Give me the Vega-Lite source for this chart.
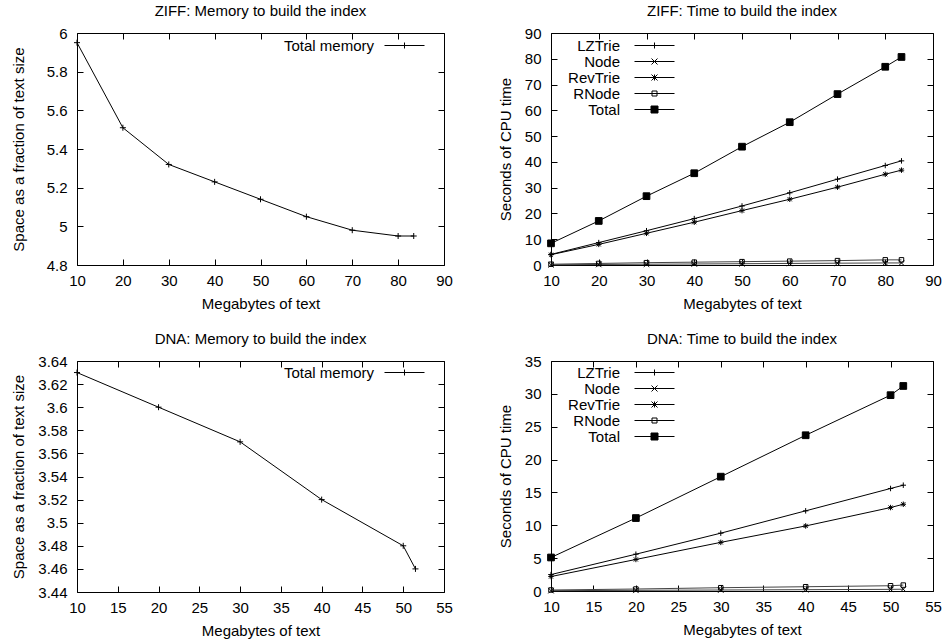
{
  "$schema": "https://vega.github.io/schema/vega-lite/v6.json",
  "padding": {"left": 10, "top": 3, "right": 0, "bottom": 0},
  "background": "white",
  "config": {
    "font": "Liberation Sans",
    "view": {"stroke": "black", "strokeWidth": 1},
    "axis": {
      "grid": false, "domain": false, "tickColor": "black", "tickSize": -6, "tickWidth": 1,
      "labelFontSize": 15, "titleFontSize": 15, "titleFontWeight": "normal",
      "labelColor": "black", "titleColor": "black", "labelPadding": 16, "labelFlush": false, "labelOverlap": false
    },
    "axisBottom": {"labelPadding": 14, "titlePadding": 8},
    "title": {"fontSize": 15, "fontWeight": "normal", "color": "black", "offset": 7},
    "legend": {
      "orient": "none", "padding": 0, "symbolSize": 100, "labelAlign": "right", "labelOffset": -36, "symbolOpacity": 1,
      "labelFontSize": 15, "labelColor": "black", "rowPadding": -2, "symbolStrokeColor": "black", "symbolStrokeWidth": 1
    }
  },
  "datasets": {
    "ziffMem": [
      {"x": 10, "y": 5.95, "s": "Total memory"},
      {"x": 20, "y": 5.51, "s": "Total memory"},
      {"x": 30, "y": 5.32, "s": "Total memory"},
      {"x": 40, "y": 5.23, "s": "Total memory"},
      {"x": 50, "y": 5.14, "s": "Total memory"},
      {"x": 60, "y": 5.05, "s": "Total memory"},
      {"x": 70, "y": 4.98, "s": "Total memory"},
      {"x": 80, "y": 4.95, "s": "Total memory"},
      {"x": 83.4, "y": 4.95, "s": "Total memory"}
    ],
    "dnaMem": [
      {"x": 10, "y": 3.63, "s": "Total memory"},
      {"x": 20, "y": 3.60, "s": "Total memory"},
      {"x": 30, "y": 3.57, "s": "Total memory"},
      {"x": 40, "y": 3.52, "s": "Total memory"},
      {"x": 50, "y": 3.48, "s": "Total memory"},
      {"x": 51.5, "y": 3.46, "s": "Total memory"}
    ],
    "ziffTime": [
      {"x": 10, "y": 4.1, "s": "LZTrie"}, {"x": 20, "y": 8.7, "s": "LZTrie"}, {"x": 30, "y": 13.3, "s": "LZTrie"},
      {"x": 40, "y": 18.0, "s": "LZTrie"}, {"x": 50, "y": 22.9, "s": "LZTrie"}, {"x": 60, "y": 28.0, "s": "LZTrie"},
      {"x": 70, "y": 33.3, "s": "LZTrie"}, {"x": 80, "y": 38.6, "s": "LZTrie"}, {"x": 83.4, "y": 40.4, "s": "LZTrie"},
      {"x": 10, "y": 0.1, "s": "Node"}, {"x": 20, "y": 0.2, "s": "Node"}, {"x": 30, "y": 0.3, "s": "Node"},
      {"x": 40, "y": 0.4, "s": "Node"}, {"x": 50, "y": 0.5, "s": "Node"}, {"x": 60, "y": 0.6, "s": "Node"},
      {"x": 70, "y": 0.7, "s": "Node"}, {"x": 80, "y": 0.8, "s": "Node"}, {"x": 83.4, "y": 0.8, "s": "Node"},
      {"x": 10, "y": 4.0, "s": "RevTrie"}, {"x": 20, "y": 8.0, "s": "RevTrie"}, {"x": 30, "y": 12.3, "s": "RevTrie"},
      {"x": 40, "y": 16.6, "s": "RevTrie"}, {"x": 50, "y": 21.1, "s": "RevTrie"}, {"x": 60, "y": 25.5, "s": "RevTrie"},
      {"x": 70, "y": 30.2, "s": "RevTrie"}, {"x": 80, "y": 35.2, "s": "RevTrie"}, {"x": 83.4, "y": 36.8, "s": "RevTrie"},
      {"x": 10, "y": 0.3, "s": "RNode"}, {"x": 20, "y": 0.6, "s": "RNode"}, {"x": 30, "y": 0.9, "s": "RNode"},
      {"x": 40, "y": 1.1, "s": "RNode"}, {"x": 50, "y": 1.3, "s": "RNode"}, {"x": 60, "y": 1.5, "s": "RNode"},
      {"x": 70, "y": 1.7, "s": "RNode"}, {"x": 80, "y": 2.0, "s": "RNode"}, {"x": 83.4, "y": 2.0, "s": "RNode"},
      {"x": 10, "y": 8.4, "s": "Total"}, {"x": 20, "y": 17.1, "s": "Total"}, {"x": 30, "y": 26.7, "s": "Total"},
      {"x": 40, "y": 35.6, "s": "Total"}, {"x": 50, "y": 45.9, "s": "Total"}, {"x": 60, "y": 55.4, "s": "Total"},
      {"x": 70, "y": 66.3, "s": "Total"}, {"x": 80, "y": 76.9, "s": "Total"}, {"x": 83.4, "y": 80.7, "s": "Total"}
    ],
    "dnaTime": [
      {"x": 10, "y": 2.5, "s": "LZTrie"}, {"x": 20, "y": 5.6, "s": "LZTrie"}, {"x": 30, "y": 8.8, "s": "LZTrie"},
      {"x": 40, "y": 12.2, "s": "LZTrie"}, {"x": 50, "y": 15.6, "s": "LZTrie"}, {"x": 51.5, "y": 16.1, "s": "LZTrie"},
      {"x": 10, "y": 0.05, "s": "Node"}, {"x": 20, "y": 0.1, "s": "Node"}, {"x": 30, "y": 0.15, "s": "Node"},
      {"x": 40, "y": 0.2, "s": "Node"}, {"x": 50, "y": 0.25, "s": "Node"}, {"x": 51.5, "y": 0.27, "s": "Node"},
      {"x": 10, "y": 2.2, "s": "RevTrie"}, {"x": 20, "y": 4.8, "s": "RevTrie"}, {"x": 30, "y": 7.4, "s": "RevTrie"},
      {"x": 40, "y": 9.9, "s": "RevTrie"}, {"x": 50, "y": 12.7, "s": "RevTrie"}, {"x": 51.5, "y": 13.2, "s": "RevTrie"},
      {"x": 10, "y": 0.15, "s": "RNode"}, {"x": 20, "y": 0.3, "s": "RNode"}, {"x": 30, "y": 0.5, "s": "RNode"},
      {"x": 40, "y": 0.65, "s": "RNode"}, {"x": 50, "y": 0.8, "s": "RNode"}, {"x": 51.5, "y": 0.9, "s": "RNode"},
      {"x": 10, "y": 5.1, "s": "Total"}, {"x": 20, "y": 11.1, "s": "Total"}, {"x": 30, "y": 17.4, "s": "Total"},
      {"x": 40, "y": 23.7, "s": "Total"}, {"x": 50, "y": 29.8, "s": "Total"}, {"x": 51.5, "y": 31.2, "s": "Total"}
    ]
  },
  "columns": 2,
  "spacing": {"row": 19, "column": 44},
  "resolve": {"scale": {"shape": "independent"}, "legend": {"shape": "independent"}},
  "concat": [
    {
      "width": 367, "height": 232,
      "title": {"text": "ZIFF: Memory to build the index"},
      "data": {"name": "ziffMem"},
      "resolve": {"axis": {"x": "independent", "y": "independent"}},
      "layer": [
        {
          "mark": {"type": "line", "stroke": "black", "strokeWidth": 1},
          "encoding": {
            "x": {"field": "x", "type": "quantitative", "scale": {"domain": [10, 90], "nice": false}, "axis": {"values": [10,20,30,40,50,60,70,80,90], "title": "Megabytes of text", "format": "d"}},
            "y": {"field": "y", "type": "quantitative", "scale": {"domain": [4.8, 6], "nice": false, "zero": false}, "axis": {"values": [4.8,5,5.2,5.4,5.6,5.8,6], "title": "Space as a fraction of text size", "format": "~g", "titlePadding": 20}}
          }
        },
        {
          "mark": {"type": "point", "filled": false, "stroke": "black", "strokeWidth": 1, "opacity": 1},
          "encoding": {
            "x": {"field": "x", "type": "quantitative", "axis": {"orient": "top", "values": [10,20,30,40,50,60,70,80,90], "labels": false, "title": null}},
            "y": {"field": "y", "type": "quantitative", "axis": {"orient": "right", "values": [4.8,5,5.2,5.4,5.6,5.8,6], "labels": false, "title": null}},
            "shape": {"value": "M-1,0L1,0M0,-1L0,1"},
            "size": {"value": 36}
          }
        },
        {
          "mark": {"type": "point", "filled": false, "opacity": 0},
          "encoding": {
            "x": {"field": "x", "type": "quantitative", "axis": null},
            "y": {"field": "y", "type": "quantitative", "axis": null},
            "shape": {"field": "s", "type": "nominal", "scale": {"domain": ["Total memory"], "range": ["M-4,0L4,0M0,-0.6L0,0.6"]},
              "legend": {"title": null, "legendX": 320, "legendY": 5, "labelOffset": -38,
                "encoding": {"symbols": {"fill": {"value": "transparent"}, "stroke": {"value": "black"}, "strokeWidth": {"value": 1}, "opacity": {"value": 1}}}}}
          }
        }
      ]
    },
    {
      "width": 382, "height": 232,
      "title": {"text": "ZIFF: Time to build the index"},
      "data": {"name": "ziffTime"},
      "resolve": {"axis": {"x": "independent", "y": "independent"}},
      "layer": [
        {
          "mark": {"type": "line", "strokeWidth": 1},
          "encoding": {
            "x": {"field": "x", "type": "quantitative", "scale": {"domain": [10, 90], "nice": false}, "axis": {"values": [10,20,30,40,50,60,70,80,90], "title": "Megabytes of text", "format": "d"}},
            "y": {"field": "y", "type": "quantitative", "scale": {"domain": [0, 90], "nice": false}, "axis": {"values": [0,10,20,30,40,50,60,70,80,90], "title": "Seconds of CPU time", "format": "d", "titlePadding": 11}},
            "detail": {"field": "s", "type": "nominal"},
            "stroke": {"condition": {"test": "datum.s==='Node' || datum.s==='RNode'", "value": "#444"}, "value": "black"}
          }
        },
        {
          "mark": {"type": "point", "filled": false, "stroke": "black", "strokeWidth": 1, "opacity": 1},
          "encoding": {
            "x": {"field": "x", "type": "quantitative", "axis": {"orient": "top", "values": [10,20,30,40,50,60,70,80,90], "labels": false, "title": null}},
            "y": {"field": "y", "type": "quantitative", "axis": {"orient": "right", "values": [0,10,20,30,40,50,60,70,80,90], "labels": false, "title": null}},
            "shape": {"condition": [
              {"test": "datum.s==='Node'", "value": "M-1,-1L1,1M-1,1L1,-1"},
              {"test": "datum.s==='RevTrie'", "value": "M-1,0L1,0M0,-1L0,1M-0.75,-0.75L0.75,0.75M-0.75,0.75L0.75,-0.75"},
              {"test": "datum.s==='RNode' || datum.s==='Total'", "value": "M-1,-1L1,-1L1,1L-1,1Z"}
            ], "value": "M-1,0L1,0M0,-1L0,1"},
            "fill": {"condition": {"test": "datum.s==='Total'", "value": "black"}, "value": "transparent"},
            "size": {"condition": [{"test": "datum.s==='Total'", "value": 45}, {"test": "datum.s==='RNode'", "value": 20}], "value": 30}
          }
        },
        {
          "mark": {"type": "point", "filled": false, "opacity": 0},
          "encoding": {
            "x": {"field": "x", "type": "quantitative", "axis": null},
            "y": {"field": "y", "type": "quantitative", "axis": null},
            "shape": {"field": "s", "type": "nominal",
              "scale": {"domain": ["LZTrie", "Node", "RevTrie", "RNode", "Total"], "range": ["M-4,0L4,0M0,-0.6L0,0.6", "M-4,0L4,0M-0.6,-0.6L0.6,0.6M-0.6,0.6L0.6,-0.6", "M-4,0L4,0M0,-0.6L0,0.6M-0.6,-0.6L0.6,0.6M-0.6,0.6L0.6,-0.6", "M-4,0L4,0M-0.5,-0.5L0.5,-0.5L0.5,0.5L-0.5,0.5Z", "M-4,0L4,0M-0.7,-0.7L0.7,-0.7L0.7,0.7L-0.7,0.7Z"]},
              "legend": {"title": null, "legendX": 96, "legendY": 5, "labelOffset": -42,
                "encoding": {"symbols": {
                  "fill": {"value": {"expr": "datum.value==='Total' ? 'black' : 'transparent'"}},
                  "stroke": {"value": "black"}, "strokeWidth": {"value": 1}, "opacity": {"value": 1}}}}}
          }
        }
      ]
    },
    {
      "width": 367, "height": 231,
      "title": {"text": "DNA: Memory to build the index"},
      "data": {"name": "dnaMem"},
      "resolve": {"axis": {"x": "independent", "y": "independent"}},
      "layer": [
        {
          "mark": {"type": "line", "stroke": "black", "strokeWidth": 1},
          "encoding": {
            "x": {"field": "x", "type": "quantitative", "scale": {"domain": [10, 55], "nice": false}, "axis": {"values": [10,15,20,25,30,35,40,45,50,55], "title": "Megabytes of text", "format": "d"}},
            "y": {"field": "y", "type": "quantitative", "scale": {"domain": [3.44, 3.64], "nice": false, "zero": false}, "axis": {"values": [3.44,3.46,3.48,3.5,3.52,3.54,3.56,3.58,3.6,3.62,3.64], "title": "Space as a fraction of text size", "format": "~g", "titlePadding": 11}}
          }
        },
        {
          "mark": {"type": "point", "filled": false, "stroke": "black", "strokeWidth": 1, "opacity": 1},
          "encoding": {
            "x": {"field": "x", "type": "quantitative", "axis": {"orient": "top", "values": [10,15,20,25,30,35,40,45,50,55], "labels": false, "title": null}},
            "y": {"field": "y", "type": "quantitative", "axis": {"orient": "right", "values": [3.44,3.46,3.48,3.5,3.52,3.54,3.56,3.58,3.6,3.62,3.64], "labels": false, "title": null}},
            "shape": {"value": "M-1,0L1,0M0,-1L0,1"},
            "size": {"value": 36}
          }
        },
        {
          "mark": {"type": "point", "filled": false, "opacity": 0},
          "encoding": {
            "x": {"field": "x", "type": "quantitative", "axis": null},
            "y": {"field": "y", "type": "quantitative", "axis": null},
            "shape": {"field": "s", "type": "nominal", "scale": {"domain": ["Total memory"], "range": ["M-4,0L4,0M0,-0.6L0,0.6"]},
              "legend": {"title": null, "legendX": 320, "legendY": 4, "labelOffset": -38,
                "encoding": {"symbols": {"fill": {"value": "transparent"}, "stroke": {"value": "black"}, "strokeWidth": {"value": 1}, "opacity": {"value": 1}}}}}
          }
        }
      ]
    },
    {
      "width": 382, "height": 230,
      "title": {"text": "DNA: Time to build the index"},
      "data": {"name": "dnaTime"},
      "resolve": {"axis": {"x": "independent", "y": "independent"}},
      "layer": [
        {
          "mark": {"type": "line", "strokeWidth": 1},
          "encoding": {
            "x": {"field": "x", "type": "quantitative", "scale": {"domain": [10, 55], "nice": false}, "axis": {"values": [10,15,20,25,30,35,40,45,50,55], "title": "Megabytes of text", "format": "d"}},
            "y": {"field": "y", "type": "quantitative", "scale": {"domain": [0, 35], "nice": false}, "axis": {"values": [0,5,10,15,20,25,30,35], "title": "Seconds of CPU time", "format": "d", "titlePadding": 11}},
            "detail": {"field": "s", "type": "nominal"},
            "stroke": {"condition": {"test": "datum.s==='Node' || datum.s==='RNode'", "value": "#444"}, "value": "black"}
          }
        },
        {
          "mark": {"type": "point", "filled": false, "stroke": "black", "strokeWidth": 1, "opacity": 1},
          "encoding": {
            "x": {"field": "x", "type": "quantitative", "axis": {"orient": "top", "values": [10,15,20,25,30,35,40,45,50,55], "labels": false, "title": null}},
            "y": {"field": "y", "type": "quantitative", "axis": {"orient": "right", "values": [0,5,10,15,20,25,30,35], "labels": false, "title": null}},
            "shape": {"condition": [
              {"test": "datum.s==='Node'", "value": "M-1,-1L1,1M-1,1L1,-1"},
              {"test": "datum.s==='RevTrie'", "value": "M-1,0L1,0M0,-1L0,1M-0.75,-0.75L0.75,0.75M-0.75,0.75L0.75,-0.75"},
              {"test": "datum.s==='RNode' || datum.s==='Total'", "value": "M-1,-1L1,-1L1,1L-1,1Z"}
            ], "value": "M-1,0L1,0M0,-1L0,1"},
            "fill": {"condition": {"test": "datum.s==='Total'", "value": "black"}, "value": "transparent"},
            "size": {"condition": [{"test": "datum.s==='Total'", "value": 45}, {"test": "datum.s==='RNode'", "value": 20}], "value": 30}
          }
        },
        {
          "mark": {"type": "point", "filled": false, "opacity": 0},
          "encoding": {
            "x": {"field": "x", "type": "quantitative", "axis": null},
            "y": {"field": "y", "type": "quantitative", "axis": null},
            "shape": {"field": "s", "type": "nominal",
              "scale": {"domain": ["LZTrie", "Node", "RevTrie", "RNode", "Total"], "range": ["M-4,0L4,0M0,-0.6L0,0.6", "M-4,0L4,0M-0.6,-0.6L0.6,0.6M-0.6,0.6L0.6,-0.6", "M-4,0L4,0M0,-0.6L0,0.6M-0.6,-0.6L0.6,0.6M-0.6,0.6L0.6,-0.6", "M-4,0L4,0M-0.5,-0.5L0.5,-0.5L0.5,0.5L-0.5,0.5Z", "M-4,0L4,0M-0.7,-0.7L0.7,-0.7L0.7,0.7L-0.7,0.7Z"]},
              "legend": {"title": null, "legendX": 96, "legendY": 4, "labelOffset": -42,
                "encoding": {"symbols": {
                  "fill": {"value": {"expr": "datum.value==='Total' ? 'black' : 'transparent'"}},
                  "stroke": {"value": "black"}, "strokeWidth": {"value": 1}, "opacity": {"value": 1}}}}}
          }
        }
      ]
    }
  ]
}
